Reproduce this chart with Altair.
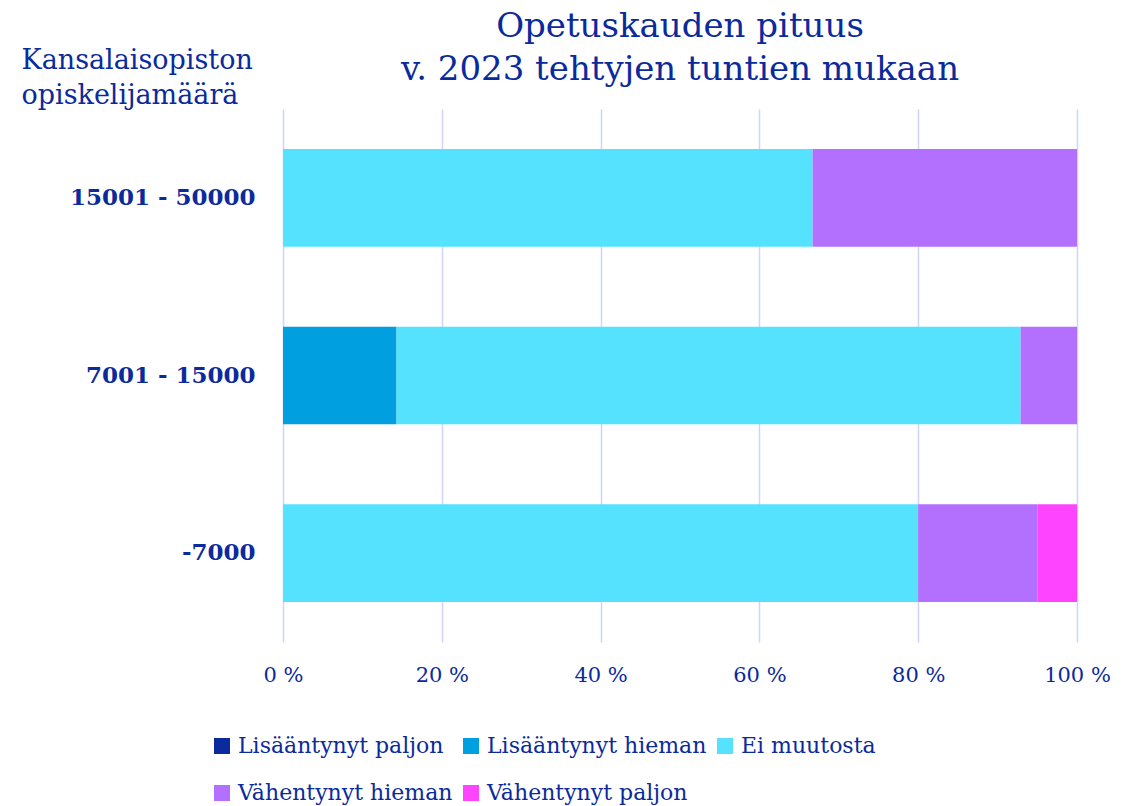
import altair as alt
import pandas as pd

groups = ["15001 - 50000", "7001 - 15000", "-7000"]
series = ["Lisääntynyt paljon", "Lisääntynyt hieman", "Ei muutosta",
          "Vähentynyt hieman", "Vähentynyt paljon"]
colors = ["#0a2a9e", "#009fe0", "#55e2ff", "#b370ff", "#ff44ff"]

lis_paljon = [0.0, 0.0, 0.0]
lis_hieman = [0.0, 14.3, 0.0]
ei_muutosta = [66.7, 78.6, 80.0]
vah_hieman = [33.3, 7.1, 15.0]
vah_paljon = [0.0, 0.0, 5.0]

vals = [lis_paljon, lis_hieman, ei_muutosta, vah_hieman, vah_paljon]
rows = []
for si, s in enumerate(series):
    for gi, g in enumerate(groups):
        rows.append({"group": g, "series": s, "value": vals[si][gi], "order": si})
df = pd.DataFrame(rows)

FONT = "DejaVu Serif"
TXT = "#0b2a9c"

chart = alt.Chart(df).mark_bar().encode(
    y=alt.Y("group:N", sort=groups,
            scale=alt.Scale(paddingInner=0.45, paddingOuter=0.225),
            axis=alt.Axis(title=["Kansalaisopiston", "opiskelijamäärä"],
                          titleAngle=0, titleAlign="left", titleBaseline="top",
                          titleX=-262, titleY=-62, titleFont=FONT,
                          titleFontSize=27, titleFontWeight="normal",
                          titleColor=TXT, titleLineHeight=35,
                          labelFont=FONT, labelFontSize=23, labelFontWeight="bold",
                          labelColor=TXT, labelPadding=28, labelLimit=300,
                          domain=False, ticks=False, grid=False)),
    x=alt.X("value:Q", stack="zero",
            scale=alt.Scale(domain=[0, 100], nice=False),
            axis=alt.Axis(title=None, values=[0, 20, 40, 60, 80, 100],
                          labelExpr="datum.value + ' %'", labelFlush=False,
                          labelFont=FONT, labelFontSize=21, labelColor=TXT,
                          labelPadding=22, domain=False, ticks=False,
                          grid=True, gridColor="#cdd5fb", gridWidth=1.5)),
    color=alt.Color("series:N", sort=series,
                    scale=alt.Scale(domain=series, range=colors),
                    legend=alt.Legend(title=None, orient="none",
                                      legendX=-72, legendY=626,
                                      columns=3, direction="horizontal",
                                      symbolType="square", symbolSize=256,
                                      symbolStrokeWidth=0, symbolOpacity=1,
                                      labelFont=FONT, labelFontSize=22,
                                      labelColor=TXT, labelOffset=5,
                                      columnPadding=7, rowPadding=25,
                                      labelLimit=400)),
    order=alt.Order("order:Q"),
).properties(
    width=794, height=533,
    autosize=alt.AutoSizeParams(type="none"),
    padding={"left": 275, "top": 101, "right": 57, "bottom": 175},
    title=alt.Title(["Opetuskauden pituus", "v. 2023 tehtyjen tuntien mukaan"],
                    font=FONT, fontSize=34, fontWeight="normal", color=TXT,
                    anchor="middle", frame="group", lineHeight=43, offset=-41),
).configure_view(stroke=None)

chart.save("out.html", embed_options={"renderer": "svg", "actions": False})
